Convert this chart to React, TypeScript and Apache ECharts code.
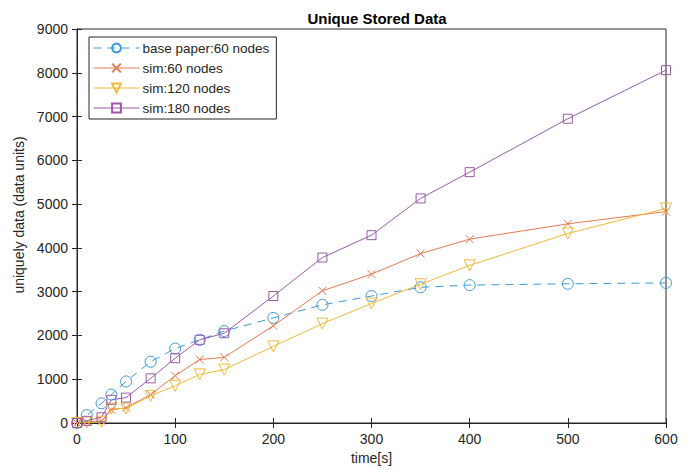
import React, { useEffect, useRef } from "react";
import * as echarts from "echarts";

const times = [0, 10, 25, 35, 50, 75, 100, 125, 150, 200, 250, 300, 350, 400, 500, 600];
const basePaper60 = [0, 180, 450, 650, 950, 1400, 1700, 1900, 2100, 2400, 2700, 2900, 3100, 3150, 3180, 3200];
const sim60 = [0, 20, 50, 300, 350, 650, 1080, 1450, 1500, 2220, 3020, 3400, 3870, 4200, 4550, 4830];
const sim120 = [0, 10, 30, 330, 330, 620, 850, 1110, 1220, 1750, 2270, 2730, 3170, 3600, 4330, 4900];
const sim180 = [0, 50, 130, 530, 580, 1020, 1480, 1900, 2050, 2900, 3780, 4290, 5130, 5730, 6950, 8060];
const seriesNames = ["base paper:60 nodes", "sim:60 nodes", "sim:120 nodes", "sim:180 nodes"];

const FONT = "'Liberation Sans', Arial, sans-serif";
const AXIS_COLOR = "#262626";
const TEXT_COLOR = "#262626";

const colors = ["#3d98d6", "#e27a52", "#f0b93a", "#9b59ab"];

const pair = (ys: number[]) => times.map((t, i) => [t, ys[i]]);

export default function App() {
  const ref = useRef<HTMLDivElement>(null);
  useEffect(() => {
    if (!ref.current) return;
    const chart = echarts.init(ref.current, null, { renderer: "svg" });
    const axisCommon = {
      axisLine: { show: true, lineStyle: { color: AXIS_COLOR, width: 1 } },
      axisTick: { show: true, inside: true, length: 5, lineStyle: { color: AXIS_COLOR } },
      splitLine: { show: false },
    };
    const lineSeries = (idx: number, ys: number[], symbol: string, size: number, dashed: boolean) => ({
      name: seriesNames[idx],
      type: "line",
      data: pair(ys),
      symbol,
      symbolSize: size,
      showAllSymbol: true,
      lineStyle: { color: colors[idx], width: 1, type: dashed ? [8, 6] : "solid" },
      itemStyle: { color: "rgba(255,255,255,0)", borderColor: colors[idx], borderWidth: 1 },
      emphasis: { disabled: true },
    });
    chart.setOption({
      animation: false,
      backgroundColor: "#ffffff",
      title: {
        text: "Unique Stored Data",
        left: 372,
        textAlign: "center",
        top: 6,
        textStyle: { fontFamily: FONT, fontSize: 15, fontWeight: "bold", color: "#000" },
      },
      grid: {
        left: 77,
        right: 24,
        top: 29,
        bottom: 47,
        containLabel: false,
        outerBoundsMode: "none",
        show: true,
        borderColor: AXIS_COLOR,
        borderWidth: 1,
        backgroundColor: "transparent",
      },
      legend: {
        orient: "vertical",
        left: 89,
        top: 37,
        itemWidth: 46,
        itemHeight: 11,
        itemGap: 6,
        padding: [4, 7, 4, 4],
        backgroundColor: "#fff",
        borderColor: AXIS_COLOR,
        borderWidth: 1,
        borderRadius: 0,
        lineStyle: { width: 1 },
        textStyle: { fontFamily: FONT, fontSize: 13.5, color: TEXT_COLOR, padding: [0, 0, 0, -2], lineHeight: 14 },
        data: seriesNames,
      },
      xAxis: [
        {
          type: "value",
          min: 0,
          max: 600,
          interval: 100,
          ...axisCommon,
          axisLabel: { fontFamily: FONT, fontSize: 14, color: TEXT_COLOR, margin: 9, formatter: (v: number) => String(v) },
          name: "time[s]",
          nameLocation: "middle",
          nameGap: 27,
          nameTextStyle: { fontFamily: FONT, fontSize: 14, color: TEXT_COLOR },
        },
        {
          type: "value",
          position: "top",
          min: 0,
          max: 600,
          interval: 100,
          ...axisCommon,
          axisLabel: { show: false },
        },
      ],
      yAxis: [
        {
          type: "value",
          min: 0,
          max: 9000,
          interval: 1000,
          ...axisCommon,
          axisLabel: { fontFamily: FONT, fontSize: 14, color: TEXT_COLOR, margin: 9, formatter: (v: number) => String(v) },
          name: "uniquely data (data units)",
          nameLocation: "middle",
          nameGap: 48,
          nameTextStyle: { fontFamily: FONT, fontSize: 14, color: TEXT_COLOR, padding: [0, 0, 0, 22] },
        },
        {
          type: "value",
          position: "right",
          min: 0,
          max: 9000,
          interval: 1000,
          ...axisCommon,
          axisLabel: { show: false },
        },
      ],
      series: [
        lineSeries(0, basePaper60, "circle", 11, true),
        lineSeries(1, sim60, "path://M0,0L10,10M10,0L0,10", 8, false),
        lineSeries(2, sim120, "path://M0,0L12,0L6,10Z", 11, false),
        lineSeries(3, sim180, "rect", 9, false),
      ],
    });
    return () => chart.dispose();
  }, []);
  return <div ref={ref} style={{ width: 690, height: 470, position: "absolute", left: 0, top: 0 }} />;
}
